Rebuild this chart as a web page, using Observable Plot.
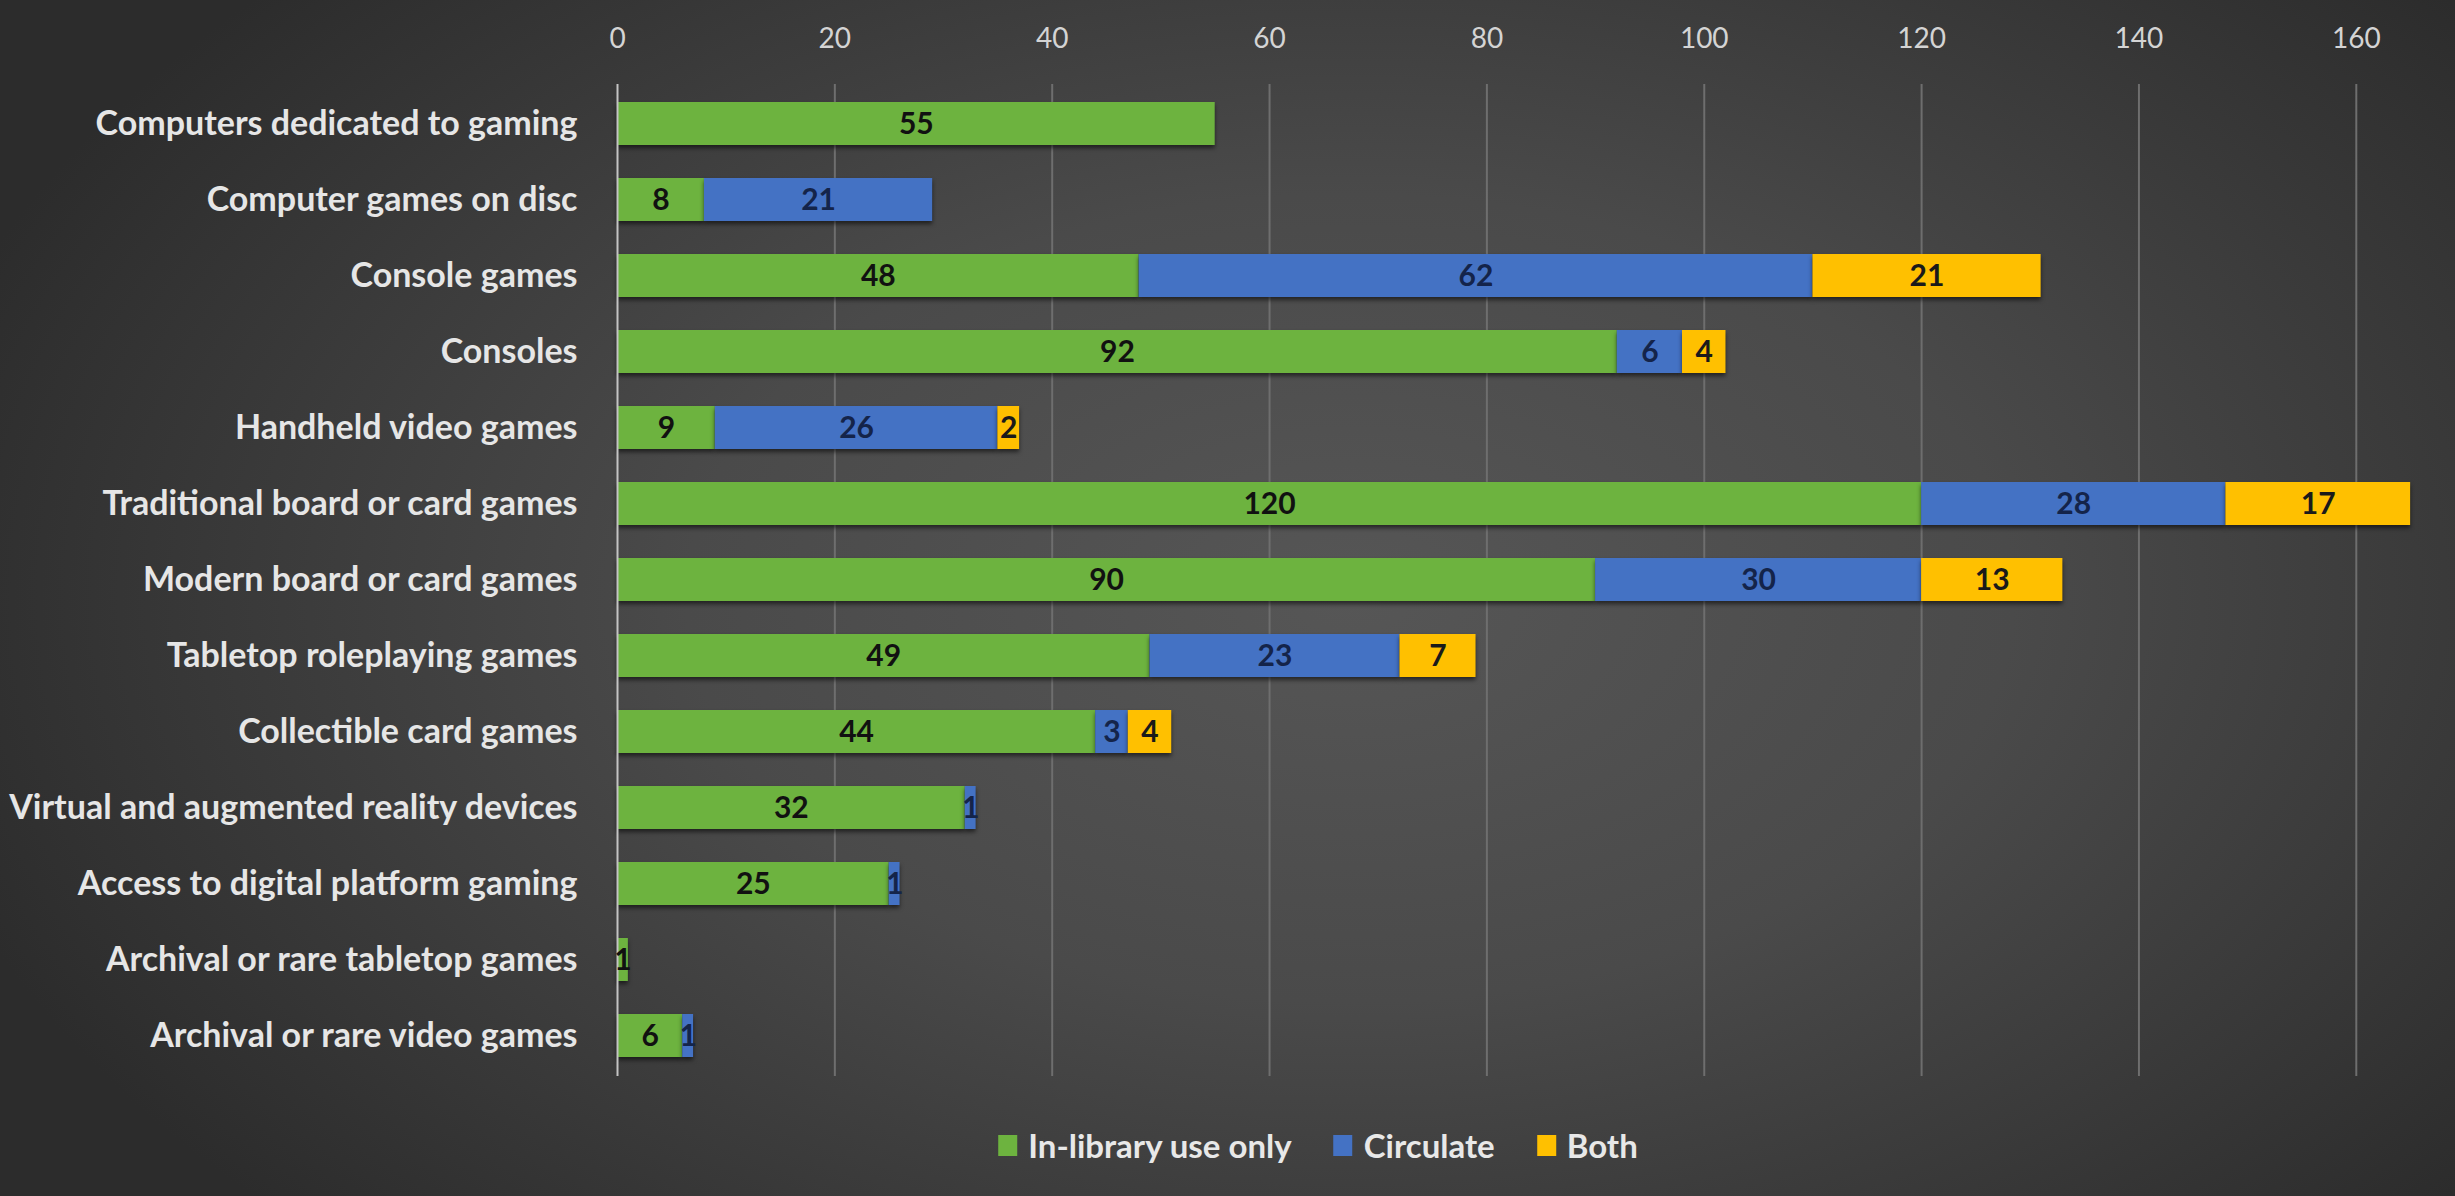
<!DOCTYPE html>
<html>
<head>
<meta charset="utf-8">
<script src="https://cdn.jsdelivr.net/npm/d3@7"></script>
<script src="https://cdn.jsdelivr.net/npm/@observablehq/plot@0.6"></script>
<style>
  html, body { margin: 0; padding: 0; }
  body {
    width: 2455px; height: 1196px; overflow: hidden; position: relative;
    background: radial-gradient(ellipse 60% 75% at 55% 50%, #565656 0%, #4a4a4a 45%, #2c2c2c 100%);
    font-family: Lato, "Open Sans", sans-serif;
  }
  #chart { position: absolute; left: 0; top: 0; }
  #chart g[aria-label="bar"] rect { filter: drop-shadow(0px 3px 2px rgba(0,0,0,0.55)); }
  #legend {
    position: absolute; top: 1125px; left: 1318px; transform: translateX(-50%);
    display: flex; align-items: center; white-space: nowrap;
    font-weight: bold; font-size: 33px; color: #e8e8e8;
  }
  #legend .item { display: flex; align-items: center; margin-right: 42px; }
  #legend .item:last-child { margin-right: 0; }
  #legend .sw { width: 19px; height: 21px; margin-right: 11px; }
</style>
</head>
<body>
<div id="chart"></div>
<div id="legend"></div>
<script>
const categories = [
  "Computers dedicated to gaming",
  "Computer games on disc",
  "Console games",
  "Consoles",
  "Handheld video games",
  "Traditional board or card games",
  "Modern board or card games",
  "Tabletop roleplaying games",
  "Collectible card games",
  "Virtual and augmented reality devices",
  "Access to digital platform gaming",
  "Archival or rare tabletop games",
  "Archival or rare video games"
];
const seriesNames = ["In-library use only", "Circulate", "Both"];
const inLibrary = [55, 8, 48, 92, 9, 120, 90, 49, 44, 32, 25, 1, 6];
const circulate = [0, 21, 62, 6, 26, 28, 30, 23, 3, 1, 1, 0, 1];
const both      = [0, 0, 21, 4, 2, 17, 13, 7, 4, 0, 0, 0, 0];
const seriesColors = ["#6db33f", "#4472c4", "#ffc000"];
const labelColors = ["#111111", "#14244a", "#1a1a1a"];
const xTicks = [0, 20, 40, 60, 80, 100, 120, 140, 160];

const seriesValues = [inLibrary, circulate, both];
const data = [];
categories.forEach((c, i) => {
  seriesNames.forEach((s, j) => {
    data.push({category: c, series: s, value: seriesValues[j][i]});
  });
});
const nonzero = data.filter(d => d.value > 0);

const plot = Plot.plot({
  width: 2455,
  height: 1100,
  marginTop: 84,
  marginBottom: 24,
  marginLeft: 617,
  marginRight: 34,
  style: {background: "transparent", fontFamily: "Lato, 'Open Sans', sans-serif", overflow: "visible"},
  x: {domain: [0, 166], axis: null},
  y: {domain: categories, paddingInner: 0.43, paddingOuter: 0.215, axis: null},
  color: {domain: seriesNames, range: seriesColors},
  marks: [
    Plot.ruleX(xTicks.filter(t => t > 0), {stroke: "#6e6e6e", strokeWidth: 2}),
    Plot.barX(nonzero, Plot.stackX({x: "value", y: "category", fill: "series", order: null})),
    Plot.ruleX([0], {stroke: "#c4c4c4", strokeWidth: 2}),
    Plot.text(nonzero, Plot.stackX({
      x: "value", y: "category", z: "series", order: null,
      text: d => String(d.value),
      fill: d => labelColors[seriesNames.indexOf(d.series)],
      fontSize: 30, fontWeight: "bold"
    })),
    Plot.axisX(xTicks, {anchor: "top", tickSize: 0, tickPadding: 37, fontSize: 28, color: "#d4d4d4", label: null}),
    Plot.axisY({anchor: "left", tickSize: 0, tickPadding: 40, fontSize: 34, fontWeight: "bold", color: "#e6e6e6", label: null})
  ]
});
document.getElementById("chart").appendChild(plot);

const legend = document.getElementById("legend");
seriesNames.forEach((s, i) => {
  const item = document.createElement("div");
  item.className = "item";
  const sw = document.createElement("div");
  sw.className = "sw";
  sw.style.background = seriesColors[i];
  const lab = document.createElement("span");
  lab.textContent = s;
  item.appendChild(sw);
  item.appendChild(lab);
  legend.appendChild(item);
});
</script>
</body>
</html>
